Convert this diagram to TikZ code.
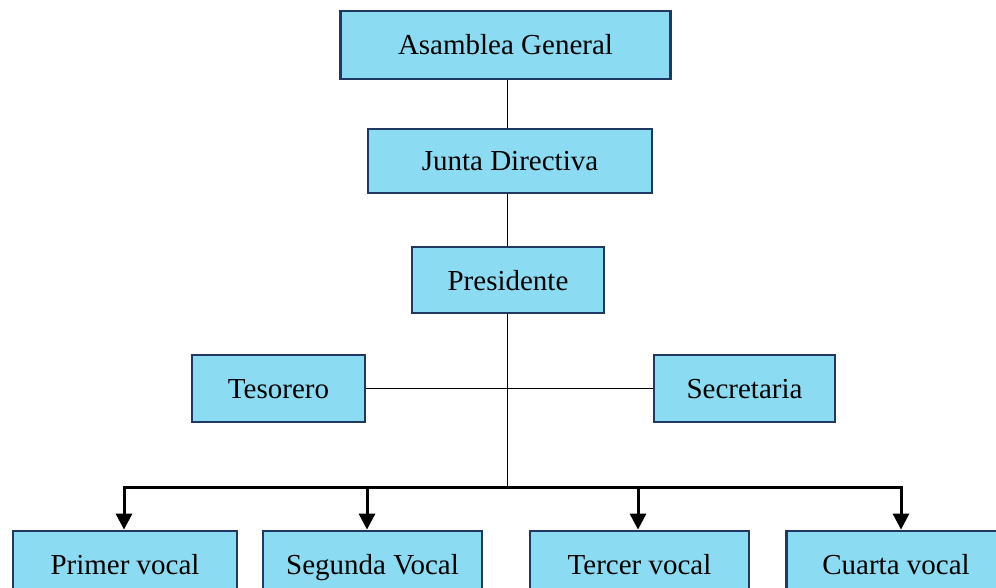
\documentclass[tikz,border=0pt]{standalone}
\usepackage{fontspec}
\setmainfont{Liberation Serif}
\usetikzlibrary{arrows.meta}
\definecolor{boxfill}{HTML}{8BDCF2}
\definecolor{boxline}{HTML}{1F3864}
\begin{document}
\begin{tikzpicture}[x=1pt,y=-1pt,
  orgbox/.style={draw=boxline, line width=2.8pt, fill=boxfill, inner sep=0pt,
    font=\fontsize{29}{34}\selectfont, text=black, text height=23pt, text depth=3pt},
  linkline/.style={draw=black, line width=1.4pt},
  arrowline/.style={draw=black, line width=3pt, -{Triangle[length=16pt,width=16pt]}},
  barline/.style={draw=black, line width=3pt, line cap=rect}
]
\useasboundingbox (0,0) rectangle (996,588);
\clip (0,0) rectangle (996,588);

\node[orgbox, minimum width=330pt, minimum height=68pt] (ag) at (505.5,45) {Asamblea General};
\node[orgbox, minimum width=284pt, minimum height=64pt] (jd) at (510,161) {Junta Directiva};
\node[orgbox, minimum width=192pt, minimum height=66pt] (pr) at (508,280) {Presidente};
\node[orgbox, minimum width=173pt, minimum height=67pt] (te) at (278.5,388.5) {Tesorero};
\node[orgbox, minimum width=181pt, minimum height=67pt] (se) at (744.5,388.5) {Secretaria};

\node[orgbox, minimum width=224pt, minimum height=66pt] (v1) at (125,564) {Primer vocal};
\node[orgbox, minimum width=219pt, minimum height=66pt] (v2) at (372.5,564) {Segunda Vocal};
\node[orgbox, minimum width=219pt, minimum height=66pt] (v3) at (639.5,564) {Tercer vocal};
\node[orgbox, minimum width=219pt, minimum height=66pt] (v4) at (896,564) {Cuarta vocal};

\coordinate (spine) at (507.5,487);
\coordinate (a1) at (124,487);
\coordinate (a2) at (367,487);
\coordinate (a3) at (638,487);
\coordinate (a4) at (901,487);

\draw[linkline] (ag.south -| spine) -- (jd.north -| spine);
\draw[linkline] (jd.south -| spine) -- (pr.north -| spine);
\draw[linkline] (pr.south -| spine) -- (spine);
\draw[linkline] (te.east) -- (se.west);

\draw[barline] (a1) -- (a4);
\draw[arrowline] (a1) -- (a1 |- v1.north);
\draw[arrowline] (a2) -- (a2 |- v2.north);
\draw[arrowline] (a3) -- (a3 |- v3.north);
\draw[arrowline] (a4) -- (a4 |- v4.north);
\end{tikzpicture}
\end{document}
